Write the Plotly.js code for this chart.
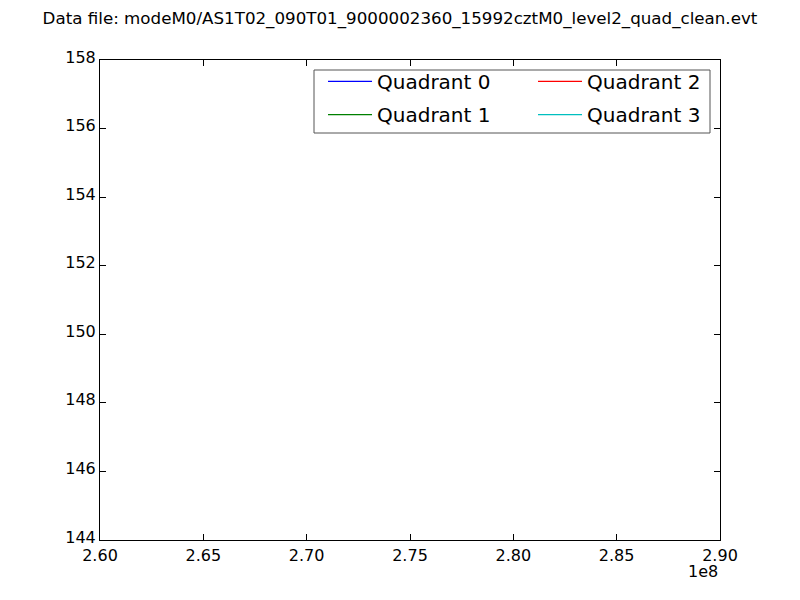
<!DOCTYPE html>
<html>
<head>
<meta charset="utf-8">
<script src="https://cdn.plot.ly/plotly-3.0.1.min.js"></script>
<style>html,body{margin:0;padding:0;background:#fff;}#chart{width:800px;height:600px;}</style>
</head>
<body>
<div id="chart"></div>
<script>
// Series (no data points are drawn in the reference figure)
const seriesNames = ["Quadrant 0", "Quadrant 1", "Quadrant 2", "Quadrant 3"];
const seriesColors = ["#0000ff", "#008000", "#ff0000", "#00bfbf"];
const q0x = [null], q0y = [null];
const q1x = [null], q1y = [null];
const q2x = [null], q2y = [null];
const q3x = [null], q3y = [null];
const xs = [q0x, q1x, q2x, q3x];
const ys = [q0y, q1y, q2y, q3y];

// Axes
const xRange = [2.60e8, 2.90e8];
const xTickVals = [2.60e8, 2.65e8, 2.70e8, 2.75e8, 2.80e8, 2.85e8, 2.90e8];
const xTickText = ["2.60", "2.65", "2.70", "2.75", "2.80", "2.85", "2.90"];
const yRange = [144, 158];
const yTickVals = [144, 146, 148, 150, 152, 154, 156, 158];
const titleText = "Data file: modeM0/AS1T02_090T01_9000002360_15992cztM0_level2_quad_clean.evt";
const offsetText = "1e8";

const FONT = "DejaVu Sans";
const legendNames = ["legend", "legend2", "legend3", "legend4"];
const legendPos = [
  {x: 0.3597, y: 0.996},
  {x: 0.3597, y: 0.927},
  {x: 0.6984, y: 0.996},
  {x: 0.6984, y: 0.927}
];

const data = seriesNames.map((n, i) => ({
  type: "scatter",
  mode: "lines",
  x: xs[i],
  y: ys[i],
  name: n,
  line: {color: seriesColors[i], width: 1.3},
  legend: legendNames[i],
  showlegend: true
}));

const axisCommon = {
  showline: true, linecolor: "#000", linewidth: 1, mirror: "ticks",
  ticks: "inside", ticklen: 6, tickwidth: 1, tickcolor: "#000",
  showgrid: false, zeroline: false,
  tickfont: {family: FONT, size: 16, color: "#000"}
};

const layout = {
  width: 800, height: 600,
  margin: {l: 100, r: 80, t: 60, b: 60},
  paper_bgcolor: "#fff", plot_bgcolor: "#fff",
  font: {family: FONT, color: "#000"},
  title: {
    text: titleText,
    font: {family: FONT, size: 16.7, color: "#000"},
    x: 0.5, xref: "container", xanchor: "center",
    y: 1 - 18/600, yref: "container", yanchor: "middle"
  },
  xaxis: Object.assign({}, axisCommon, {
    range: xRange, tickmode: "array", tickvals: xTickVals, ticktext: xTickText,
    ticklabelstandoff: 1
  }),
  yaxis: Object.assign({}, axisCommon, {
    range: yRange, tickmode: "array", tickvals: yTickVals,
    ticklabelshift: -3
  }),
  annotations: [{
    text: offsetText, xref: "paper", yref: "paper",
    x: 1, y: -31/480, xanchor: "right", yanchor: "middle",
    showarrow: false, font: {family: FONT, size: 16, color: "#000"}
  }],
  shapes: [{
    type: "rect", xref: "paper", yref: "paper",
    x0: (314-100)/620, x1: (710-100)/620,
    y0: (540-133)/480, y1: (540-70)/480,
    line: {color: "#555", width: 1}, fillcolor: "rgba(0,0,0,0)"
  }]
};

legendNames.forEach((ln, i) => {
  layout[ln] = {
    x: legendPos[i].x, y: legendPos[i].y, xanchor: "left", yanchor: "top",
    xref: "paper", yref: "paper",
    bgcolor: "rgba(0,0,0,0)", borderwidth: 0, itemwidth: 44,
    font: {family: FONT, size: 20, color: "#000"}
  };
});

Plotly.newPlot("chart", data, layout, {displayModeBar: false, staticPlot: true});
</script>
</body>
</html>
